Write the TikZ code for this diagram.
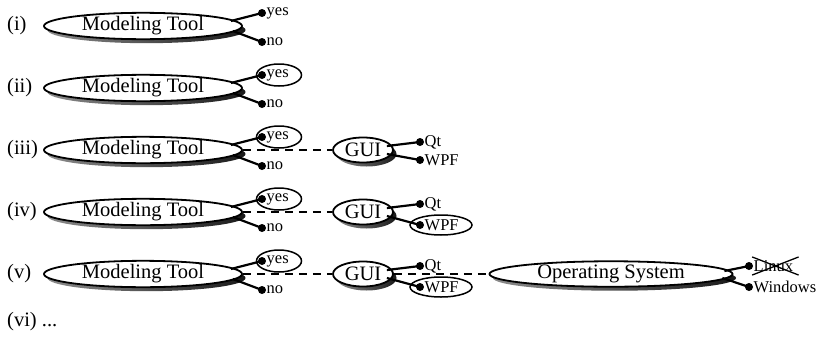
\documentclass[tikz,border=0pt]{standalone}
\usepackage{fontspec}
\setmainfont{Liberation Serif}
\usetikzlibrary{shapes.geometric,shadows}
\begin{document}
\begin{tikzpicture}[x=1pt,y=-1pt,
  bigfont/.style={font=\fontsize{20.5}{22}\selectfont},
  smallfont/.style={font=\fontsize{16.5}{18}\selectfont},
  feature/.style={ellipse, draw, line width=1.8pt, fill=white, inner sep=0pt,
    minimum height=25pt, bigfont,
    general shadow={shadow xshift=3.5pt, shadow yshift=-4pt,
      left color=black!45, right color=black!90}},
  choice/.style={ellipse, draw, line width=1.5pt, fill=white, inner sep=0pt},
  dot/.style={circle, fill=black, inner sep=0pt, minimum size=8pt},
  branch/.style={line width=2.2pt},
  link/.style={line width=1.6pt, dash pattern=on 8pt off 6pt},
  opt/.style={anchor=west, inner sep=0.3pt, smallfont},
  rowlabel/.style={anchor=west, inner sep=0pt, bigfont}]
\useasboundingbox (0,0) rectangle (822,351);

% selection marks drawn first, so dots and labels sit on top
\foreach \r/\y in {2/88,3/150,4/212,5/274}
  \node[choice, minimum width=45pt, minimum height=22pt] (yessel\r) at (279,{\y-13}) {};
\foreach \r/\y in {4/212,5/274}
  \node[choice, minimum width=62pt, minimum height=20pt] (wpfsel\r) at (441,{\y+13}) {};

% modeling tool with yes/no choice, one row per step
\foreach \r/\y/\lab in {1/26/(i),2/88/(ii),3/150/(iii),4/212/(iv),5/274/(v)} {
  \node[rowlabel] (lab\r) at (7,\y) {\lab};
  \node[feature, minimum width=198pt] (mt\r) at (143,\y) {Modeling Tool};
  \node[dot] (yes\r) at (262,{\y-13}) {};
  \node[dot] (no\r) at (262,{\y+16}) {};
  \node[opt] (yest\r) at (yes\r.east) {yes};
  \node[opt] (not\r) at (no\r.east) {no};
  \draw[branch] ([shift={(-12,-5)}]mt\r.east) -- (yes\r.center);
  \draw[branch] ([shift={(-10,5)}]mt\r.east) -- (no\r.center);
}

% GUI toolkit choice
\foreach \r/\y/\w in {3/150/10,4/212/13,5/274/13} {
  \node[feature, minimum width=60pt] (gui\r) at (363,\y) {GUI};
  \node[dot] (qt\r) at (420,{\y-8}) {};
  \node[dot] (wpf\r) at (420,{\y+\w}) {};
  \node[opt] (qtt\r) at (qt\r.east) {Qt};
  \node[opt] (wpft\r) at (wpf\r.east) {WPF};
  \draw[branch] ([shift={(-7,-4)}]gui\r.east) -- (qt\r.center);
  \draw[branch] ([shift={(-7,4)}]gui\r.east) -- (wpf\r.center);
  \draw[link] (mt\r.east) -- (gui\r.west);
}

% operating system choice
\node[feature, minimum width=243pt] (os) at (611,274) {Operating System};
\node[dot] (linux) at (749,266) {};
\node[dot] (win) at (749,287) {};
\node[opt] (linuxt) at (linux.east) {Linux};
\node[opt] (wint) at (win.east) {Windows};
\draw[branch] ([shift={(-9,-3)}]os.east) -- (linux.center);
\draw[branch] ([shift={(-11,4)}]os.east) -- (win.center);
\draw[link] (gui5.east) -- (os.west);
\draw[line width=1.3pt] ([shift={(-1,-3)}]linuxt.north west) -- ([shift={(5,3)}]linuxt.south east);
\draw[line width=1.3pt] ([shift={(-1,3)}]linuxt.south west) -- ([shift={(5,-3)}]linuxt.north east);

\node[rowlabel] (lab6) at (7,322) {(vi) ...};
\end{tikzpicture}
\end{document}
